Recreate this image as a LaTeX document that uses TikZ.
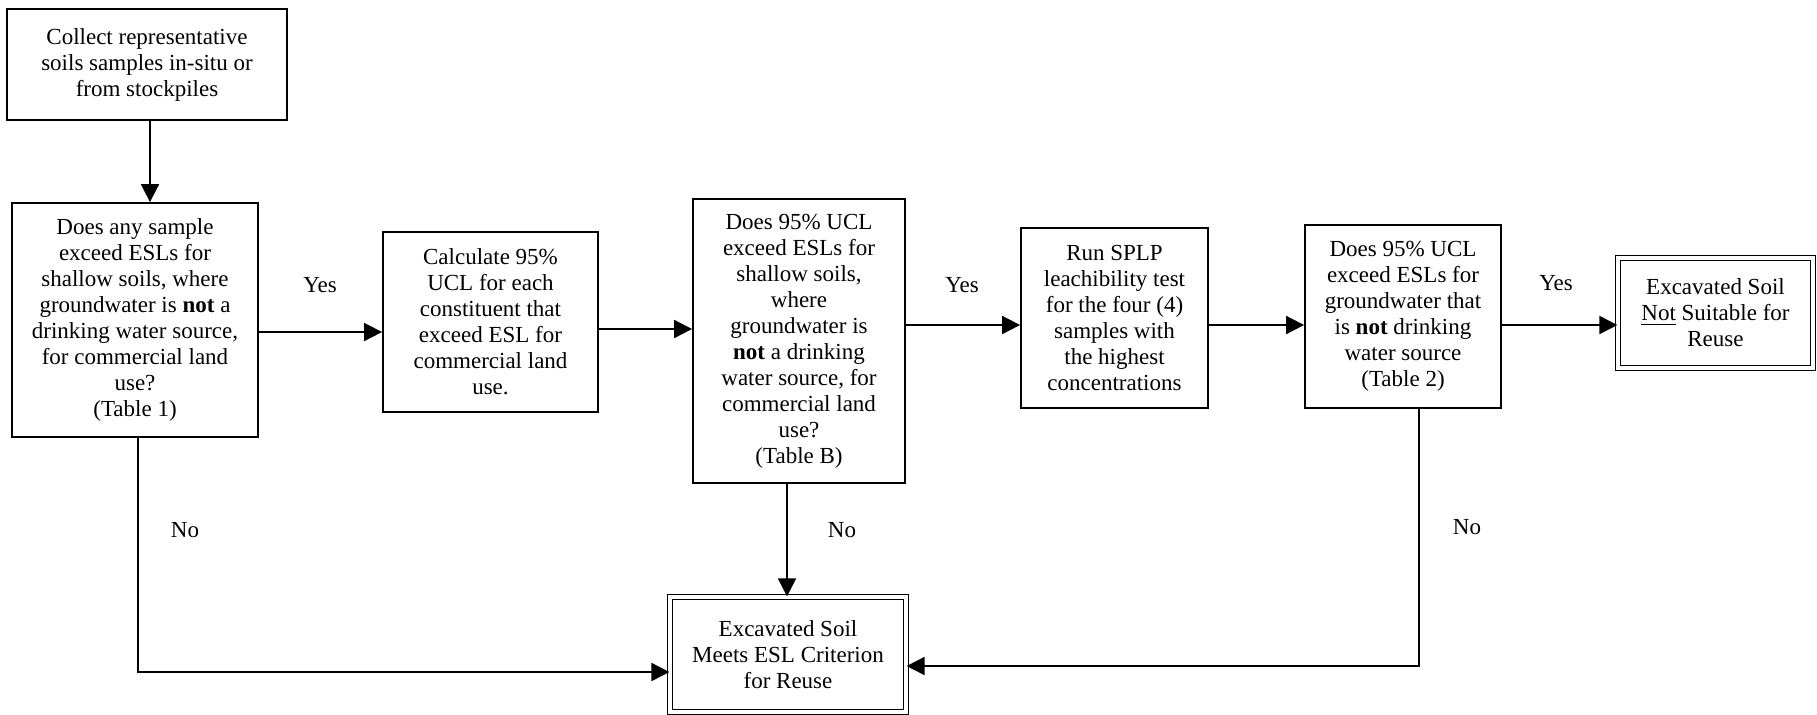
\documentclass[tikz,border=0pt]{standalone}
\usepackage{fontspec}
\setmainfont{Liberation Serif}
\usetikzlibrary{arrows.meta}
\begin{document}
\begin{tikzpicture}[x=0.5pt,y=-0.5pt,
  font=\fontsize{11.5pt}{13pt}\selectfont,
  box/.style={draw,line width=0.9pt,inner sep=0pt,align=center,anchor=center},
  dbox/.style={box,double,double distance=2pt,line width=0.6pt},
  arr/.style={line width=0.9pt,-{Triangle[length=9pt,width=9pt]}},
  lbl/.style={inner sep=0pt}]
\useasboundingbox (0,0) rectangle (1817,714);
\node[box,minimum width=140pt,minimum height=55.5pt] (b1) at (147,64.5)
  {Collect representative\\soils samples in-situ or\\from stockpiles};
\node[box,minimum width=123pt,minimum height=117pt] (b2) at (135,320)
  {Does any sample\\exceed ESLs for\\shallow soils, where\\groundwater is \textbf{not} a\\drinking water source,\\for commercial land\\use?\\(Table 1)};
\node[box,minimum width=107.5pt,minimum height=90pt] (b3) at (490.5,322)
  {Calculate 95\%\\UCL for each\\constituent that\\exceed ESL for\\commercial land\\use.};
\node[box,minimum width=106pt,minimum height=142pt] (b4) at (799,341)
  {Does 95\% UCL\\exceed ESLs for\\shallow soils,\\where\\groundwater is\\\textbf{not} a drinking\\water source, for\\commercial land\\use?\\(Table B)};
\node[box,minimum width=93.5pt,minimum height=90pt] (b5) at (1114.5,318)
  {Run SPLP\\leachibility test\\for the four (4)\\samples with\\the highest\\concentrations};
\node[box,minimum width=98pt,minimum height=91.5pt] (b6) at (1403,316.5)
  {Does 95\% UCL\\exceed ESLs for\\groundwater that\\is \textbf{not} drinking\\water source\\(Table 2)};
\node[dbox,minimum width=97.5pt,minimum height=55pt] (b7) at (1715.5,313)
  {Excavated Soil\\\underline{Not} Suitable for\\Reuse};
\node[dbox,minimum width=118pt,minimum height=57.5pt] (b8) at (788,654.5)
  {Excavated Soil\\Meets ESL Criterion\\for Reuse};
\coordinate (xt) at (150,0);
\coordinate (ya) at (0,332);
\coordinate (yb) at (0,329);
\coordinate (yc) at (0,325);
\coordinate (xl) at (138,672);
\coordinate (xm) at (787,0);
\coordinate (xr) at (1419,666);
\draw[arr] (xt |- b1.south) -- (xt |- b2.north);
\draw[arr] (b2.east |- ya) -- (b3.west |- ya);
\draw[arr] (b3.east |- yb) -- (b4.west |- yb);
\draw[arr] (b4.east |- yc) -- (b5.west |- yc);
\draw[arr] (b5.east |- yc) -- (b6.west |- yc);
\draw[arr] (b6.east |- yc) -- (b7.west |- yc);
\draw[arr] (xl |- b2.south) -- (xl) -- (b8.west |- xl);
\draw[arr] (xm |- b4.south) -- (xm |- b8.north);
\draw[arr] (xr |- b6.south) -- (xr) -- (b8.east |- xr);
\node[lbl] (y1) at (320,285) {Yes};
\node[lbl] (y2) at (962,285) {Yes};
\node[lbl] (y3) at (1556,283) {Yes};
\node[lbl] (n1) at (185,530) {No};
\node[lbl] (n2) at (842,530) {No};
\node[lbl] (n3) at (1467,527) {No};
\end{tikzpicture}
\end{document}
